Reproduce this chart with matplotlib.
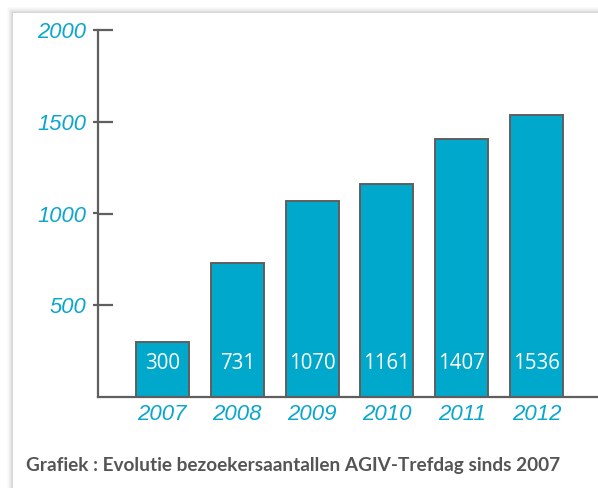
import matplotlib
matplotlib.use('Agg')
import matplotlib.pyplot as plt
from matplotlib.patches import Rectangle

# visitors per year, AGIV-Trefdag
years = ['2007', '2008', '2009', '2010', '2011', '2012']
visitors = [300, 731, 1070, 1161, 1407, 1536]
y_ticks = [500, 1000, 1500, 2000]

cyan = '#0aa6cc'
bar_color = '#00a8cb'
axis_grey = '#5f5f5f'

fig = plt.figure(figsize=(5.98, 4.88), dpi=100)
fig.patch.set_facecolor('white')

# soft card shadow at the top and left edge
for i, a in enumerate([0.015, 0.02, 0.025, 0.03, 0.035, 0.04]):
    off = (6 - i) / 598
    fig.patches.append(Rectangle((13 / 598 - off, -0.1), 1.2, 1.1 - 13 / 488 + off * 598 / 488,
                                 transform=fig.transFigure, facecolor='black', alpha=a,
                                 edgecolor='none', zorder=-3))
fig.patches.append(Rectangle((13 / 598, -0.1), 1.2, 1.1 - 13 / 488, transform=fig.transFigure,
                             facecolor='white', edgecolor='none', zorder=-2))

ax = fig.add_axes([98 / 598, 1 - 397 / 488, 1 - 98 / 598, (397 - 30) / 488])
ax.set_zorder(2)
ax.patch.set_alpha(0)

x = list(range(len(years)))
ax.bar(x, visitors, width=0.71, color=bar_color, edgecolor=axis_grey, linewidth=1.4, zorder=2)

for xi, v in zip(x, visitors):
    ax.text(xi, 180, str(v), ha='center', va='center', color='white',
            fontsize=14.8, family='Open Sans', zorder=3)

ax.set_xlim(-0.86, 5.82)
ax.set_ylim(0, 2000)

for s in ['top', 'right']:
    ax.spines[s].set_visible(False)
for s in ['left', 'bottom']:
    ax.spines[s].set_color(axis_grey)
    ax.spines[s].set_linewidth(1.6)

ax.set_yticks(y_ticks)
ax.set_yticklabels([str(t) for t in y_ticks], color=cyan, fontsize=15.8,
                   style='italic', family='Liberation Sans')
ax.tick_params(axis='y', direction='in', length=11, width=1.6, color=axis_grey, pad=8.6)

# short outer part of the y ticks
sec = ax.secondary_yaxis('left')
sec.set_yticks(y_ticks)
sec.set_yticklabels([])
sec.tick_params(axis='y', direction='out', length=3.6, width=1.6, color=axis_grey)
sec.spines['left'].set_visible(False)

ax.set_xticks(x)
ax.set_xticklabels(years, color=cyan, fontsize=16, style='italic', family='Liberation Sans')
ax.tick_params(axis='x', length=0, pad=5)

fig.text(26 / 598, 1 - 466 / 488, 'Grafiek : Evolutie bezoekersaantallen AGIV-Trefdag sinds 2007',
         ha='left', va='center', color='#555555', fontsize=13.7, fontweight='bold', family='Lato',
         zorder=5)

fig.savefig('out.png', dpi=100)
